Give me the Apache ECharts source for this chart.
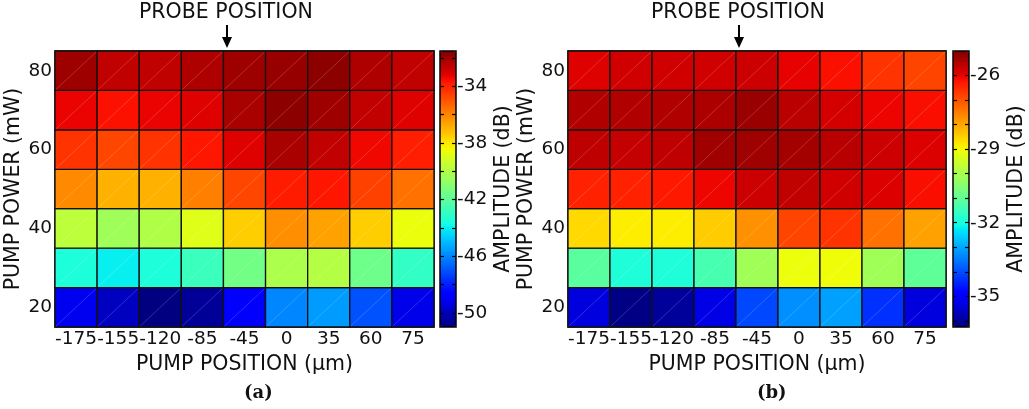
<!DOCTYPE html>
<html>
<head>
<meta charset="utf-8">
<script src="https://cdn.jsdelivr.net/npm/echarts@6/dist/echarts.min.js"></script>
<style>html,body{margin:0;padding:0;background:#fff;}#c{width:1029px;height:409px;}</style>
</head>
<body>
<div id="c"></div>
<script>
// ---- data ----
const pumpPositions = ['-175','-155','-120','-85','-45','0','35','60','75'];
const pumpPowers = ['20','30','40','50','60','70','80'];
// panel (a) amplitude (dB), rows from 20 mW (bottom) to 80 mW (top)
const ampA20 = [-49.1, -49.9, -51.0, -50.6, -48.9, -46.0, -45.6, -47.0, -49.2];
const ampA30 = [-43.5, -44.0, -43.5, -42.8, -41.5, -40.1, -39.9, -41.6, -43.0];
const ampA40 = [-39.7, -40.4, -40.0, -38.9, -37.5, -36.2, -36.6, -37.5, -38.6];
const ampA50 = [-36.1, -36.9, -36.9, -35.9, -34.7, -33.8, -33.7, -34.6, -35.6];
const ampA60 = [-34.3, -34.7, -34.3, -33.7, -33.1, -32.2, -32.6, -33.4, -33.9];
const ampA70 = [-33.3, -33.6, -33.3, -33.1, -32.2, -31.7, -32.0, -32.6, -33.1];
const ampA80 = [-32.0, -32.6, -32.6, -32.3, -32.0, -31.9, -31.7, -32.3, -32.6];
// panel (b)
const ampB20 = [-35.32, -36.2, -35.99, -35.24, -34.05, -33.26, -33.08, -34.32, -35.32];
const ampB30 = [-31.09, -31.9, -31.9, -31.36, -30.13, -29.09, -29.05, -30.13, -31.02];
const ampB40 = [-28.59, -28.85, -28.85, -28.44, -27.73, -26.82, -26.62, -27.36, -27.93];
const ampB50 = [-26.4, -26.4, -26.3, -26.07, -25.74, -25.63, -25.78, -25.91, -26.18];
const ampB60 = [-25.61, -25.67, -25.61, -25.31, -25.3, -25.36, -25.55, -25.74, -25.91];
const ampB70 = [-25.47, -25.47, -25.47, -25.43, -25.26, -25.58, -25.82, -26.06, -26.18];
const ampB80 = [-25.93, -25.78, -25.78, -25.78, -25.74, -26.01, -26.2, -26.62, -26.82];
const rangeA = [-51.0, -31.5];
const rangeB = [-36.25, -25.0];
const cbTicksA = [-50, -48, -46, -44, -42, -40, -38, -36, -34, -32];
const cbLabelsA = [-50, -46, -42, -38, -34];
const cbTicksB = [-36, -35, -34, -33, -32, -31, -30, -29, -28, -27, -26];
const cbLabelsB = [-35, -32, -29, -26];

// jet colour map (matplotlib segment definition)
const jetSeg = {
  r: [[0, 0], [0.35, 0], [0.66, 1], [0.89, 1], [1, 0.5]],
  g: [[0, 0], [0.125, 0], [0.375, 1], [0.64, 1], [0.91, 0], [1, 0]],
  b: [[0, 0.5], [0.11, 1], [0.34, 1], [0.65, 0], [1, 0]]
};
function segVal(seg, t) {
  for (let i = 1; i < seg.length; i++) {
    if (t <= seg[i][0]) {
      const a = seg[i - 1], b = seg[i];
      return a[1] + (b[1] - a[1]) * (t - a[0]) / (b[0] - a[0]);
    }
  }
  return seg[seg.length - 1][1];
}
const jet = [];
for (let k = 0; k <= 128; k++) {
  const t = k / 128;
  const c = [segVal(jetSeg.r, t), segVal(jetSeg.g, t), segVal(jetSeg.b, t)].map(v => Math.round(v * 255));
  jet.push('rgb(' + c.join(',') + ')');
}

function toCells(rows) {
  const out = [];
  rows.forEach((row, yi) => row.forEach((v, xi) => out.push([xi, yi, v])));
  return out;
}
const cellsA = toCells([ampA20, ampA30, ampA40, ampA50, ampA60, ampA70, ampA80]);
const cellsB = toCells([ampB20, ampB30, ampB40, ampB50, ampB60, ampB70, ampB80]);

const FONT = 'DejaVu Sans';
const TXT = '#111';
const TICK_FS = 18.5;
const NAME_FS = 20.5;

function renderCell(params, api) {
  const p = api.coord([api.value(0), api.value(1)]);
  const s = api.size([1, 1]);
  const x = p[0] - s[0] / 2, y = p[1] - s[1] / 2;
  return {
    type: 'group',
    children: [
      { type: 'rect', shape: { x: x, y: y, width: s[0], height: s[1] },
        style: { fill: api.visual('color'), stroke: '#111', lineWidth: 1.3 } },
      { type: 'line', shape: { x1: x + 1, y1: y + s[1] - 1, x2: x + s[0] - 1, y2: y + 1 },
        style: { stroke: 'rgba(255,255,255,0.3)', lineWidth: 0.6 } }
    ]
  };
}

const grids = [
  { left: 55, top: 51, width: 379, height: 276, show: true, borderColor: '#000', borderWidth: 1.5, backgroundColor: 'transparent' },
  { left: 440, top: 51, width: 16, height: 276, show: true, borderColor: '#000', borderWidth: 1.5, backgroundColor: 'transparent', z: 10 },
  { left: 568, top: 51, width: 378, height: 276, show: true, borderColor: '#000', borderWidth: 1.5, backgroundColor: 'transparent' },
  { left: 953, top: 51, width: 16, height: 276, show: true, borderColor: '#000', borderWidth: 1.5, backgroundColor: 'transparent', z: 10 }
];

function heatX(gi) {
  return {
    type: 'category', gridIndex: gi, data: pumpPositions,
    axisLine: { show: false }, axisTick: { show: false }, splitLine: { show: false },
    axisLabel: { color: TXT, fontFamily: FONT, fontSize: TICK_FS, margin: 3, interval: 0 },
    name: 'PUMP POSITION (\u00b5m)', nameLocation: 'middle', nameGap: 14,
    nameTextStyle: { color: TXT, fontFamily: FONT, fontSize: NAME_FS }
  };
}
function heatY(gi) {
  return {
    type: 'category', gridIndex: gi, data: pumpPowers,
    axisLine: { show: false }, axisTick: { show: false }, splitLine: { show: false },
    axisLabel: { color: TXT, fontFamily: FONT, fontSize: TICK_FS, margin: 3, interval: 1 },
    name: 'PUMP POWER (mW)', nameLocation: 'middle', nameGap: 27,
    nameTextStyle: { color: TXT, fontFamily: FONT, fontSize: NAME_FS }
  };
}
function cbX(gi) {
  return { type: 'value', gridIndex: gi, min: 0, max: 1, show: false };
}
function cbYLeft(gi, range, ticks) {
  return {
    type: 'value', gridIndex: gi, position: 'left', min: range[0], max: range[1], z: 11,
    axisLine: { show: false }, splitLine: { show: false },
    axisTick: { show: true, inside: true, length: 4, customValues: ticks, lineStyle: { color: '#000', width: 1.2 } },
    axisLabel: { show: false }
  };
}
function cbYRight(gi, range, ticks, labels) {
  return {
    type: 'value', gridIndex: gi, position: 'right', min: range[0], max: range[1], z: 11,
    axisLine: { show: false }, splitLine: { show: false },
    axisTick: { show: true, inside: true, length: 4, customValues: ticks, lineStyle: { color: '#000', width: 1.2 } },
    axisLabel: { show: true, customValues: labels, color: TXT, fontFamily: FONT, fontSize: TICK_FS, margin: 1 },
    name: 'AMPLITUDE (dB)', nameLocation: 'middle', nameRotate: 90, nameGap: 37,
    nameTextStyle: { color: TXT, fontFamily: FONT, fontSize: NAME_FS }
  };
}

function probe(xc) {
  return [
    { type: 'text', left: xc - 88, top: 2, style: { text: 'PROBE POSITION', fill: TXT, font: NAME_FS + 'px "DejaVu Sans"' } },
    { type: 'line', shape: { x1: xc, y1: 25, x2: xc, y2: 40 }, style: { stroke: '#000', lineWidth: 2 } },
    { type: 'polygon', shape: { points: [[xc - 5, 37], [xc + 5, 37], [xc, 48]] }, style: { fill: '#000' } }
  ];
}

const chart = echarts.init(document.getElementById('c'), null, { renderer: 'canvas' });
chart.setOption({
  animation: false,
  backgroundColor: '#fff',
  grid: grids,
  xAxis: [heatX(0), cbX(1), heatX(2), cbX(3)],
  yAxis: [heatY(0), cbYLeft(1, rangeA, cbTicksA), cbYRight(1, rangeA, cbTicksA, cbLabelsA),
          heatY(2), cbYLeft(3, rangeB, cbTicksB), cbYRight(3, rangeB, cbTicksB, cbLabelsB)],
  visualMap: [
    { type: 'continuous', seriesIndex: 0, dimension: 2, min: rangeA[0], max: rangeA[1], calculable: false,
      show: true, left: 440, top: 51, itemWidth: 16, itemHeight: 276, padding: 0, text: null, z: 1,
      inRange: { color: jet } },
    { type: 'continuous', seriesIndex: 1, dimension: 2, min: rangeB[0], max: rangeB[1], calculable: false,
      show: true, left: 953, top: 51, itemWidth: 16, itemHeight: 276, padding: 0, text: null, z: 1,
      inRange: { color: jet } }
  ],
  series: [
    { type: 'custom', xAxisIndex: 0, yAxisIndex: 0, renderItem: renderCell, encode: { x: 0, y: 1 }, data: cellsA },
    { type: 'custom', xAxisIndex: 2, yAxisIndex: 3, renderItem: renderCell, encode: { x: 0, y: 1 }, data: cellsB }
  ],
  graphic: probe(227).concat(probe(739)).concat([
    { type: 'text', left: 244, top: 384, style: { text: '(a)', fill: TXT, font: 'bold 18px "DejaVu Serif"' } },
    { type: 'text', left: 757, top: 384, style: { text: '(b)', fill: TXT, font: 'bold 18px "DejaVu Serif"' } }
  ])
});
</script>
</body>
</html>
